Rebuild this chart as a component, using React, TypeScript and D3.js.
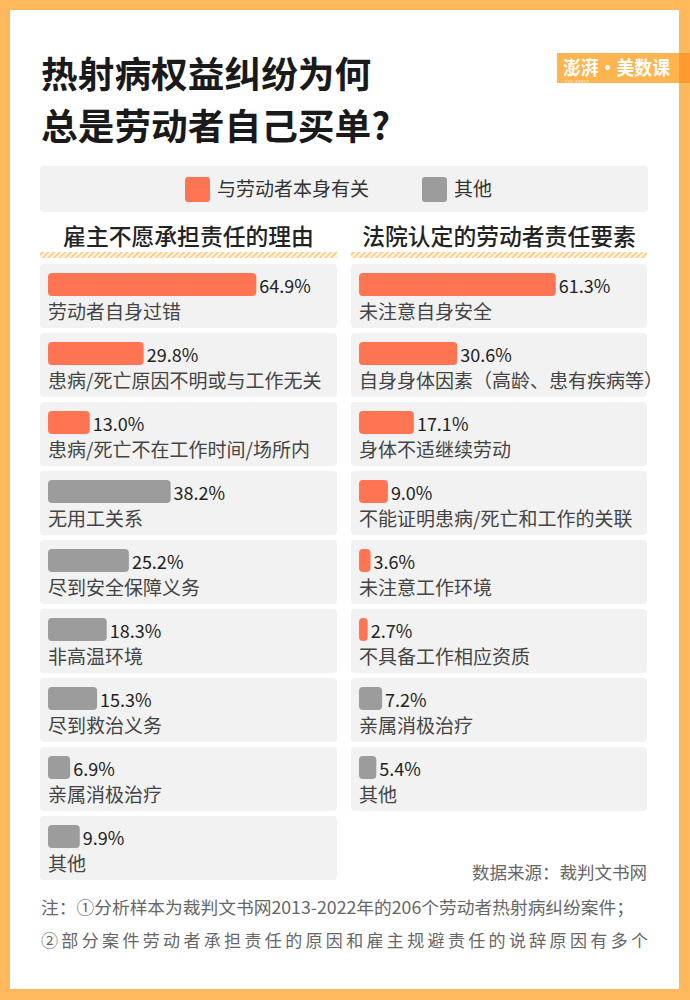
import { useEffect } from "react";
import * as d3 from "d3";

const LEFT_CATS = [
  "劳动者自身过错",
  "患病/死亡原因不明或与工作无关",
  "患病/死亡不在工作时间/场所内",
  "无用工关系",
  "尽到安全保障义务",
  "非高温环境",
  "尽到救治义务",
  "亲属消极治疗",
  "其他",
];
const LEFT_VALUES = [64.9, 29.8, 13.0, 38.2, 25.2, 18.3, 15.3, 6.9, 9.9];
const LEFT_GROUPS = ["self", "self", "self", "other", "other", "other", "other", "other", "other"];

const RIGHT_CATS = [
  "未注意自身安全",
  "自身身体因素（高龄、患有疾病等）",
  "身体不适继续劳动",
  "不能证明患病/死亡和工作的关联",
  "未注意工作环境",
  "不具备工作相应资质",
  "亲属消极治疗",
  "其他",
];
const RIGHT_VALUES = [61.3, 30.6, 17.1, 9.0, 3.6, 2.7, 7.2, 5.4];
const RIGHT_GROUPS = ["self", "self", "self", "self", "self", "self", "other", "other"];

const LEGEND = [
  { key: "self", label: "与劳动者本身有关" },
  { key: "other", label: "其他" },
];

const TITLE = ["热射病权益纠纷为何", "总是劳动者自己买单?"];
const PANEL_TITLES = ["雇主不愿承担责任的理由", "法院认定的劳动者责任要素"];
const SOURCE = "数据来源：裁判文书网";
const NOTES = [
  "注：①分析样本为裁判文书网2013-2022年的206个劳动者热射病纠纷案件；",
  "②部分案件劳动者承担责任的原因和雇主规避责任的说辞原因有多个",
];

const W = 690, H = 1000;
const FONT = "'Noto Sans CJK SC', 'Noto Sans', sans-serif";
const ORANGE = "#FF7553";
const GREY = "#9C9C9C";
const CARD = "#F2F2F2";
const BORDER = "#FFB85C";

const color = d3.scaleOrdinal<string, string>().domain(["self", "other"]).range([ORANGE, GREY]);

// bar length: 3.21px per percentage point
const x = d3.scaleLinear().domain([0, 100]).range([0, 321]);
// rows: 64px cards, 69px step
const y = d3.scaleBand<number>().domain(d3.range(9)).range([264, 264 + 9 * 69 - 5]).paddingInner(5 / 69);

function Panel({ x0, width, title, cats, values, groups }: {
  x0: number; width: number; title: string; cats: string[]; values: number[]; groups: string[];
}) {
  return (
    <g>
      <text x={x0 + width / 2} y={245} textAnchor="middle" fontSize={22.8} fontWeight={500} fill="#222">{title}</text>
      <rect x={x0} y={252} width={width} height={6} fill="url(#hatch)" />
      {cats.map((c, i) => {
        const top = y(i) ?? 0;
        const bw = Math.max(7, x(values[i]));
        return (
          <g key={c}>
            <rect x={x0} y={top} width={width} height={y.bandwidth()} rx={4} fill={CARD} />
            <rect x={x0 + 8} y={top + 9} width={bw} height={23} rx={4} fill={color(groups[i])} />
            <text x={x0 + 8 + bw + 3} y={top + 29} fontSize={18} fill="#222">{values[i].toFixed(1)}%</text>
            <text x={x0 + 8} y={top + 55} fontSize={19} fill="#444">{c}</text>
          </g>
        );
      })}
    </g>
  );
}

export default function App() {
  useEffect(() => {
    document.body.style.margin = "0";
  }, []);

  return (
    <svg width={W} height={H} viewBox={`0 0 ${W} ${H}`} style={{ display: "block" }} fontFamily={FONT}>
      <defs>
        <pattern id="hatch" width={4} height={4} patternUnits="userSpaceOnUse" patternTransform="rotate(45)">
          <rect width={4} height={4} fill="#FFF1DC" />
          <line x1={0} y1={0} x2={0} y2={4} stroke="#FFB85C" strokeWidth={2} />
        </pattern>
      </defs>
      <rect width={W} height={H} fill={BORDER} />
      <rect x={10} y={10} width={669} height={979} fill="#fff" />

      {/* logo */}
      <rect x={557} y={53} width={133} height={30} fill="#FFB54F" />
      <rect x={679} y={53} width={11} height={30} fill="#FF9A30" />
      <text x={563} y={75} fontSize={19} fontWeight={700} fill="#fff" textLength={107} lengthAdjust="spacingAndGlyphs">澎湃·美数课</text>
      <text x={565} y={82.5} fontSize={3} fill="#fff" letterSpacing={1}>THE PAPER</text>

      {/* title */}
      {TITLE.map((t, i) => (
        <text key={t} x={41} y={88 + i * 52} fontSize={36.7} fontWeight={700} fill="#1a1a1a">{t}</text>
      ))}

      {/* legend */}
      <rect x={40} y={166} width={608} height={46} rx={4} fill={CARD} />
      {LEGEND.map((d, i) => {
        const lx = [185, 422][i];
        return (
          <g key={d.key}>
            <rect x={lx} y={177} width={25} height={25} rx={3} fill={color(d.key)} />
            <text x={lx + 32} y={196} fontSize={19} fill="#333">{d.label}</text>
          </g>
        );
      })}

      <Panel x0={40} width={297} title={PANEL_TITLES[0]} cats={LEFT_CATS} values={LEFT_VALUES} groups={LEFT_GROUPS} />
      <Panel x0={351} width={296} title={PANEL_TITLES[1]} cats={RIGHT_CATS} values={RIGHT_VALUES} groups={RIGHT_GROUPS} />

      <text x={647} y={879} textAnchor="end" fontSize={17.5} fill="#666">{SOURCE}</text>
      <text x={41} y={914} fontSize={17} fill="#666" textLength={593} lengthAdjust="spacingAndGlyphs">{NOTES[0]}</text>
      <text x={41} y={947} fontSize={17} fill="#666" textLength={607} lengthAdjust="spacing">{NOTES[1]}</text>
    </svg>
  );
}
